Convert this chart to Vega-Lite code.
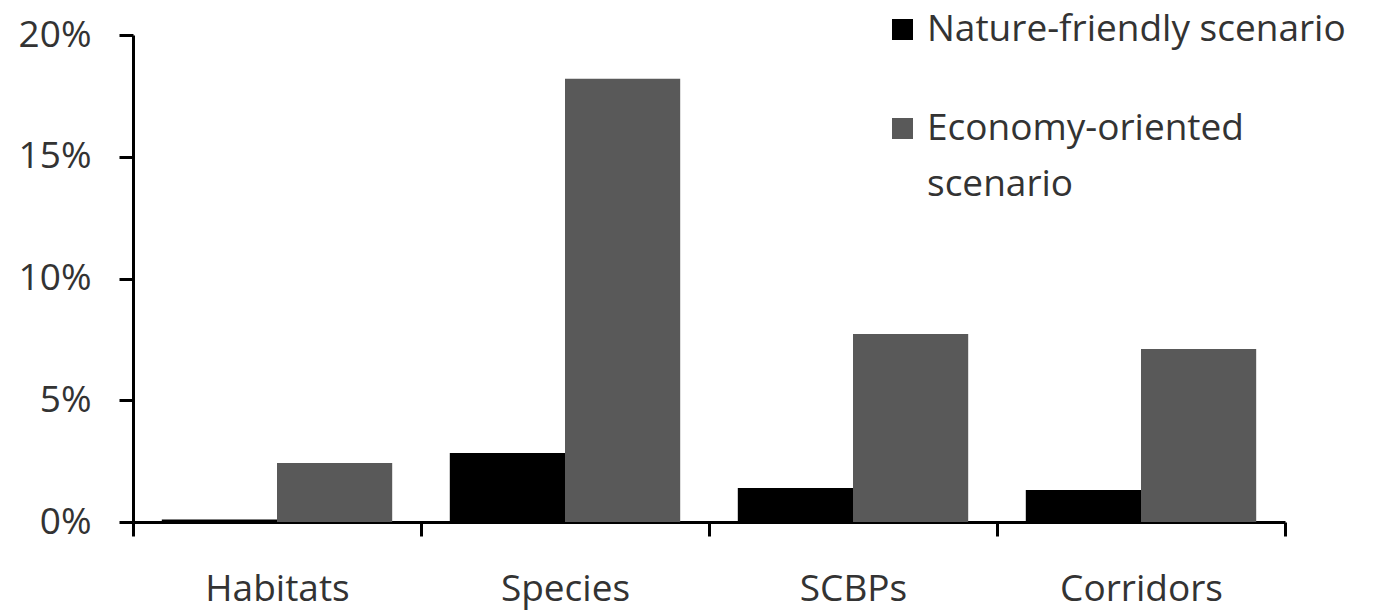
{
  "$schema": "https://vega.github.io/schema/vega-lite/v6.json",
  "width": 1152,
  "height": 487,
  "autosize": {"type": "none"},
  "padding": {"left": 133, "top": 35, "right": 89, "bottom": 93},
  "background": "white",
  "config": {
    "view": {"stroke": null},
    "font": "Open Sans"
  },
  "data": {
    "values": [
      {"category": "Habitats", "scenario": "Nature-friendly scenario", "value": 0.1},
      {"category": "Habitats", "scenario": "Economy-oriented scenario", "value": 2.42},
      {"category": "Species", "scenario": "Nature-friendly scenario", "value": 2.83},
      {"category": "Species", "scenario": "Economy-oriented scenario", "value": 18.2},
      {"category": "SCBPs", "scenario": "Nature-friendly scenario", "value": 1.4},
      {"category": "SCBPs", "scenario": "Economy-oriented scenario", "value": 7.72},
      {"category": "Corridors", "scenario": "Nature-friendly scenario", "value": 1.31},
      {"category": "Corridors", "scenario": "Economy-oriented scenario", "value": 7.1}
    ]
  },
  "mark": {"type": "bar"},
  "encoding": {
    "x": {
      "field": "category",
      "type": "nominal",
      "sort": ["Habitats", "Species", "SCBPs", "Corridors"],
      "scale": {"paddingInner": 0, "paddingOuter": 0},
      "axis": {
        "title": null,
        "labelAngle": 0,
        "labelFontSize": 37,
        "labelColor": "#333333",
        "labelPadding": 35,
        "tickBand": "extent",
        "tickSize": 14,
        "tickWidth": 3,
        "tickColor": "black",
        "domainColor": "black",
        "domainWidth": 3
      }
    },
    "xOffset": {
      "field": "scenario",
      "type": "nominal",
      "sort": ["Nature-friendly scenario", "Economy-oriented scenario"],
      "scale": {"paddingInner": 0, "paddingOuter": 0.25}
    },
    "y": {
      "field": "value",
      "type": "quantitative",
      "scale": {"domain": [0, 20], "nice": false},
      "axis": {
        "title": null,
        "values": [0, 5, 10, 15, 20],
        "labelExpr": "datum.value + '%'",
        "labelFontSize": 37,
        "labelColor": "#333333",
        "labelPadding": 28,
        "tickSize": 14,
        "tickWidth": 3,
        "tickColor": "black",
        "domainColor": "black",
        "domainWidth": 3,
        "grid": false
      }
    },
    "color": {
      "field": "scenario",
      "type": "nominal",
      "sort": ["Nature-friendly scenario", "Economy-oriented scenario"],
      "scale": {"range": ["#000000", "#595959"]},
      "legend": {
        "title": null,
        "orient": "none",
        "legendX": 751,
        "legendY": -24,
        "symbolType": "square",
        "symbolSize": 440,
        "symbolStrokeWidth": 0,
        "labelFontSize": 37,
        "labelColor": "#333333",
        "labelLimit": 700,
        "labelOffset": 6,
        "rowPadding": 61,
        "labelExpr": "datum.label == 'Economy-oriented scenario' ? ['Economy-oriented', 'scenario'] : datum.label",
        "encode": {
          "labels": {"update": {"lineHeight": {"signal": "datum.value == 'Economy-oriented scenario' ? 56 : 37"}}}
        }
      }
    }
  }
}
